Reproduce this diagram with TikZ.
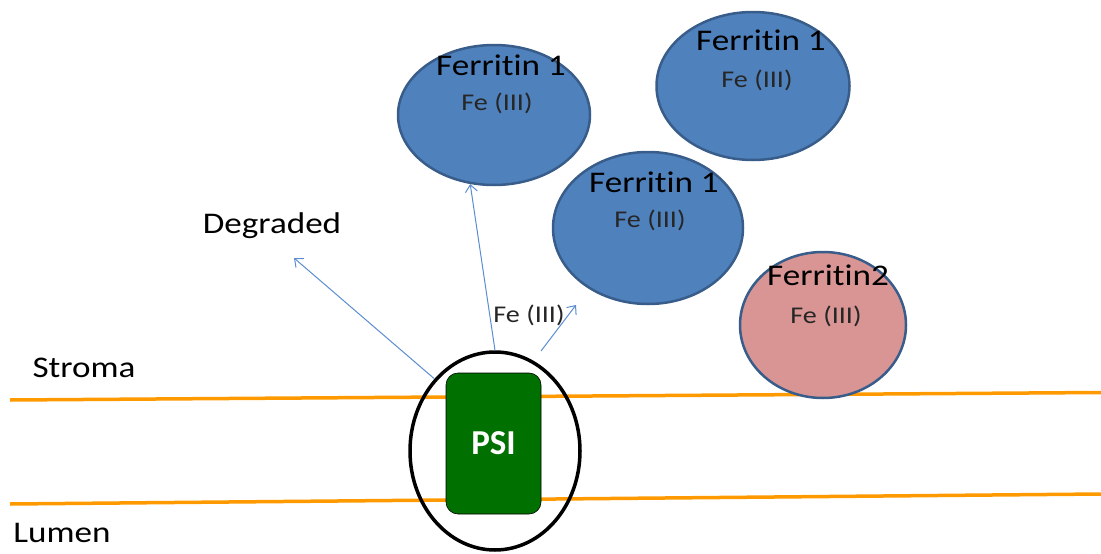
\documentclass[tikz,border=0pt]{standalone}
\usepackage{fontspec}
\setmainfont[FakeStretch=1.17, Ligatures=NoCommon]{Carlito}
\newfontfamily\psifont{Carlito}
\usetikzlibrary{shapes.geometric,arrows.meta}
\definecolor{ferblue}{RGB}{79,129,189}
\definecolor{feredge}{RGB}{56,93,138}
\definecolor{ferpink}{RGB}{217,149,148}
\definecolor{membrane}{RGB}{255,153,0}
\definecolor{psigreen}{RGB}{0,112,0}
\definecolor{flow}{RGB}{91,141,207}
\tikzset{
  ferritin/.style={ellipse, draw=feredge, line width=2.5pt, fill=ferblue, inner sep=0pt},
  bigtext/.style={font=\fontsize{30}{32}\selectfont, inner sep=0pt},
  smalltext/.style={font=\fontsize{24}{26}\selectfont, inner sep=0pt, text=black!85},
  flowarrow/.style={draw=flow, line width=1pt, -{Straight Barb[length=7pt,width=12pt]}},
  membraneline/.style={draw=membrane, line width=3.5pt}
}
\begin{document}
\begin{tikzpicture}[x=1pt,y=-1pt]
\useasboundingbox (0,0) rectangle (1101,554);
% thylakoid membrane
\coordinate (mtl) at (10,400);
\coordinate (mtr) at (1101,392.5);
\coordinate (mbl) at (10,504);
\coordinate (mbr) at (1101,494);
\draw[membraneline] (mtl) -- (mtr);
\draw[membraneline] (mbl) -- (mbr);
% ferritin particles
\node[ferritin, minimum width=192pt, minimum height=140pt] (f1a) at (494,115) {};
\node[ferritin, minimum width=193pt, minimum height=148pt] (f1b) at (753,86) {};
\node[ferritin, minimum width=190pt, minimum height=152pt] (f1c) at (648,228) {};
\node[ferritin, fill=ferpink, minimum width=166pt, minimum height=146pt] (f2) at (823,325) {};
\node[bigtext] (t1a) at (501,65) {Ferritin 1};
\node[smalltext] (s1a) at (497,103) {Fe (III)};
\node[bigtext] (t1b) at (761,40) {Ferritin 1};
\node[smalltext] (s1b) at (757,80) {Fe (III)};
\node[bigtext] (t1c) at (654,182) {Ferritin 1};
\node[smalltext] (s1c) at (650,220) {Fe (III)};
\node[bigtext] (t2) at (828,275) {Ferritin2};
\node[smalltext] (s2) at (826,316) {Fe (III)};
% photosystem I in the membrane
\node[ellipse, draw=black, line width=3.5pt, minimum width=170pt, minimum height=198pt, inner sep=0pt] (ring) at (495,451) {};
\node[draw=black, line width=0.6pt, fill=psigreen, rounded corners=12pt, minimum width=95pt, minimum height=141pt, inner sep=0pt,
  text=white, font=\psifont\bfseries\fontsize{35}{37}\selectfont] (psi) at (493.5,443.5) {PSI};
% labels
\node[bigtext] (stroma) at (84,368) {Stroma};
\node[bigtext] (lumen) at (62,533) {Lumen};
\node[bigtext] (deg) at (272,226) {Degraded};
\node[smalltext] (fefree) at (529,315) {Fe (III)};
% iron release paths
\coordinate (degtip) at (294,258);
\coordinate (freestart) at (541,351);
\coordinate (freetip) at (576,305);
\draw[flowarrow] (ring.130) -- (degtip);
\draw[flowarrow] (ring.north) -- (f1a.-109);
\draw[flowarrow] (freestart) -- (freetip);
\end{tikzpicture}
\end{document}
